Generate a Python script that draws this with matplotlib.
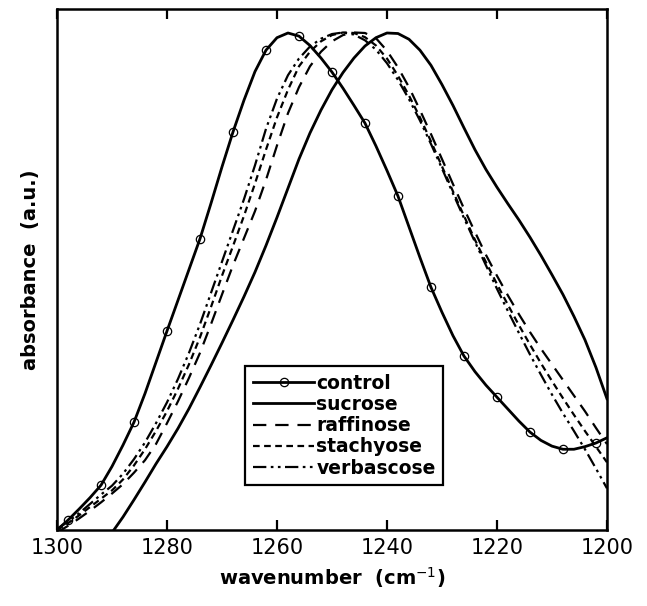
import matplotlib
matplotlib.use("Agg")
import matplotlib.pyplot as plt

# wavenumber grid (cm^-1), every 2 from 1300 down to 1200
wavenumber = list(range(1300, 1199, -2))

control = [0.000, 0.019, 0.040, 0.062, 0.086, 0.122, 0.163, 0.207, 0.262, 0.322,
           0.382, 0.441, 0.500, 0.559, 0.627, 0.697, 0.764, 0.825, 0.880, 0.921,
           0.945, 0.954, 0.948, 0.930, 0.906, 0.879, 0.848, 0.815, 0.781, 0.737,
           0.690, 0.641, 0.582, 0.523, 0.466, 0.418, 0.373, 0.334, 0.304, 0.278,
           0.255, 0.232, 0.209, 0.188, 0.172, 0.161, 0.155, 0.155, 0.160, 0.167,
           0.177]

sucrose = [-0.150, -0.120, -0.090, -0.062, -0.035, -0.005, 0.025, 0.058, 0.092, 0.127,
           0.160, 0.195, 0.233, 0.274, 0.316, 0.359, 0.403, 0.448, 0.495, 0.546,
           0.600, 0.656, 0.712, 0.762, 0.806, 0.845, 0.878, 0.906, 0.929, 0.945,
           0.954, 0.953, 0.942, 0.921, 0.892, 0.855, 0.815, 0.772, 0.730, 0.692,
           0.658, 0.626, 0.595, 0.562, 0.527, 0.490, 0.452, 0.410, 0.365, 0.312,
           0.252]

raffinose = [-0.005, 0.008, 0.022, 0.037, 0.053, 0.070, 0.088, 0.110, 0.134, 0.165,
             0.205, 0.247, 0.292, 0.340, 0.395, 0.452, 0.508, 0.560, 0.612, 0.672,
             0.738, 0.800, 0.850, 0.890, 0.918, 0.938, 0.950, 0.955, 0.954, 0.944,
             0.920, 0.888, 0.850, 0.806, 0.760, 0.712, 0.664, 0.617, 0.572, 0.528,
             0.488, 0.450, 0.414, 0.380, 0.348, 0.318, 0.288, 0.258, 0.228, 0.196,
             0.165]

stachyose = [0.000, 0.013, 0.028, 0.044, 0.060, 0.076, 0.097, 0.124, 0.155, 0.190,
             0.228, 0.271, 0.318, 0.370, 0.428, 0.488, 0.545, 0.603, 0.665, 0.730,
             0.792, 0.845, 0.890, 0.918, 0.938, 0.950, 0.955, 0.954, 0.946, 0.930,
             0.905, 0.872, 0.834, 0.792, 0.746, 0.698, 0.650, 0.603, 0.557, 0.514,
             0.472, 0.432, 0.393, 0.356, 0.320, 0.286, 0.253, 0.221, 0.190, 0.160,
             0.130]

verbascose = [0.002, 0.016, 0.032, 0.050, 0.068, 0.085, 0.108, 0.136, 0.168, 0.205,
              0.245, 0.290, 0.340, 0.395, 0.455, 0.515, 0.575, 0.635, 0.700, 0.770,
              0.828, 0.873, 0.905, 0.928, 0.943, 0.952, 0.955, 0.951, 0.940, 0.922,
              0.896, 0.864, 0.827, 0.786, 0.741, 0.694, 0.646, 0.599, 0.553, 0.508,
              0.463, 0.420, 0.378, 0.337, 0.298, 0.260, 0.224, 0.190, 0.155, 0.118,
              0.080]

xticks = [1300, 1280, 1260, 1240, 1220, 1200]

fig = plt.figure(figsize=(6.47, 6.06), dpi=100)
ax = fig.add_axes([0.0881, 0.1254, 0.850, 0.8597])

ax.plot(wavenumber, control, color="black", lw=2.0, marker="o", markersize=6,
        markerfacecolor="none", markeredgewidth=0.9, markevery=(1, 3), label="control")
ax.plot(wavenumber, sucrose, color="black", lw=2.0, label="sucrose")
ax.plot(wavenumber, raffinose, color="black", lw=1.6, ls=(0, (6, 4)), label="raffinose")
ax.plot(wavenumber, stachyose, color="black", lw=1.6, ls=(0, (3, 2)), label="stachyose")
ax.plot(wavenumber, verbascose, color="black", lw=1.6,
        ls=(0, (6, 2, 1.2, 2, 1.2, 2)), label="verbascose")

ax.set_xlim(1300, 1200)
ax.set_ylim(0, 1)
ax.set_xticks(xticks)
ax.set_yticks([])
ax.tick_params(axis="x", direction="in", length=7, width=1.6, top=True,
               labelsize=15, pad=6)
for s in ax.spines.values():
    s.set_linewidth(1.8)

ax.set_xlabel("wavenumber  (cm$^{-1}$)", fontsize=14, fontweight="bold", labelpad=5)
ax.set_ylabel("absorbance  (a.u.)", fontsize=14, fontweight="bold", labelpad=12)

leg = ax.legend(loc="lower left", bbox_to_anchor=(0.325, 0.068),
                prop={"weight": "bold", "size": 13.5}, handlelength=3.3,
                handletextpad=0.1, labelspacing=0.12, borderpad=0.4,
                fancybox=False, framealpha=1, edgecolor="black")
leg.get_frame().set_linewidth(1.6)

fig.savefig("out.png", dpi=100)
